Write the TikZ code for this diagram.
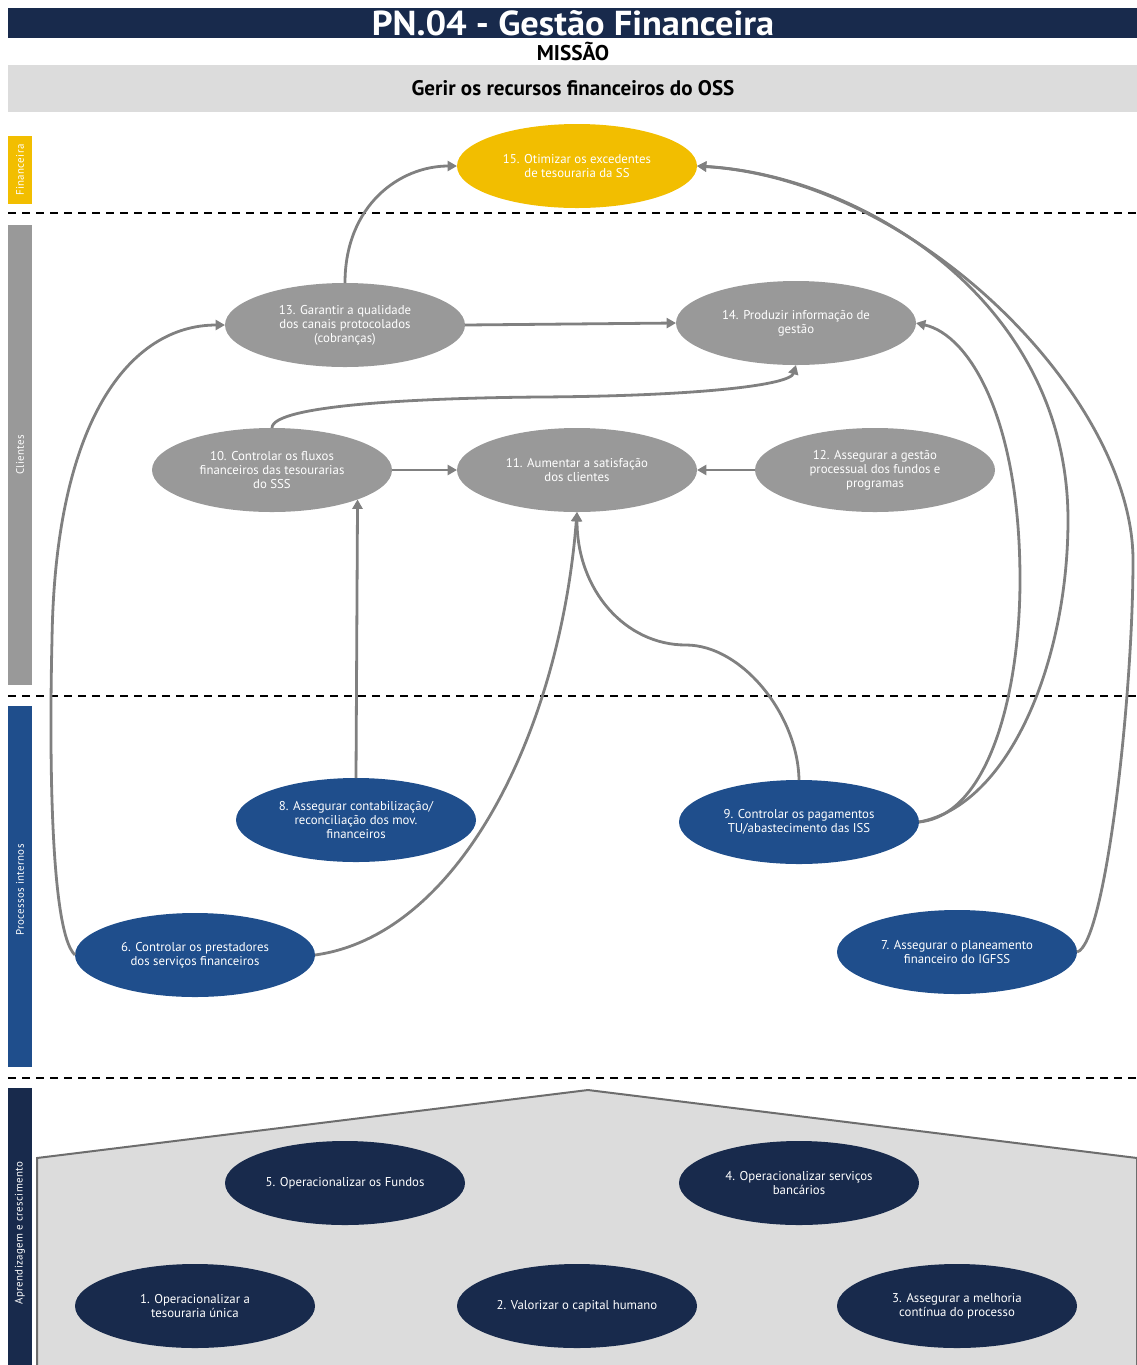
\documentclass[tikz,border=0pt]{standalone}
\usepackage{fontspec}
\setmainfont{PT Sans}
\newfontfamily\titlefont{PT Sans}[FakeStretch=1.05]
\newfontfamily\spacedfont{PT Sans}[LetterSpace=3]
\usetikzlibrary{shapes.geometric,arrows.meta}
\definecolor{navy}{RGB}{24,42,76}
\definecolor{yel}{RGB}{242,190,0}
\definecolor{gry}{RGB}{153,153,153}
\definecolor{blu}{RGB}{31,78,140}
\definecolor{lgr}{RGB}{220,220,220}
\definecolor{con}{RGB}{128,128,128}
\tikzset{
  obj/.style={ellipse, minimum width=180pt, minimum height=63pt, inner sep=0pt, outer sep=0pt,
    text=white, align=center, font=\fontsize{9.6}{10.5}\selectfont},
  objfin/.style={obj, fill=yel},
  objcli/.style={obj, fill=gry},
  objpro/.style={obj, fill=blu},
  objapr/.style={obj, fill=navy},
  conn/.style={draw=con, line width=2.1pt, -{Triangle[length=7pt,width=7.5pt]}},
  sep/.style={draw=black, line width=1.4pt, dash pattern=on 6pt off 4.5pt},
  sidelabel/.style={text=white, rotate=90, font=\spacedfont\fontsize{8.2}{9}\selectfont},
}
\begin{document}
\begin{tikzpicture}[x=0.75pt,y=-0.75pt]
\useasboundingbox (0,0) rectangle (1137,1365);
% header
\fill[navy] (8,8) rectangle (1137,38);
\node[text=white, font=\titlefont\bfseries\fontsize{26}{26}\selectfont] (title) at (573,23) {PN.04 - Gestão Financeira};
\node[font=\bfseries\fontsize{16}{16}\selectfont] (missao) at (573,51) {MISSÃO};
\fill[lgr] (8,65) rectangle (1137,112);
\node[font=\bfseries\fontsize{15.8}{16}\selectfont] (mission) at (573,88) {Gerir os recursos financeiros do OSS};
% side bars
\fill[yel] (8,136) rectangle (32,204);
\node[sidelabel] (lfin) at (20,170) {Financeira};
\fill[gry] (8,225) rectangle (32,685);
\node[sidelabel] (lcli) at (20,455) {Clientes};
\fill[blu] (8,706) rectangle (32,1067);
\node[sidelabel] (lpro) at (20,890) {Processos internos};
\fill[navy] (8,1088) rectangle (32,1365);
\node[sidelabel] (lapr) at (20,1233) {Aprendizagem e crescimento};
% separators
\draw[sep] (8,213) -- (1137,213);
\draw[sep] (8,696) -- (1137,696);
\draw[sep] (8,1078) -- (1137,1078);
% house
\draw[fill=lgr, draw=con!85!black, line width=1.5pt] (37,1366) -- (37,1158) -- (588,1090) -- (1137,1158) -- (1137,1366);
% objectives
\node[objfin] (n15) at (577,166) {15. Otimizar os excedentes\\de tesouraria da SS};
\node[objcli] (n13) at (345,325) {13. Garantir a qualidade\\dos canais protocolados\\(cobranças)};
\node[objcli] (n14) at (796,323) {14. Produzir informação de\\gestão};
\node[objcli] (n10) at (272,470) {10. Controlar os fluxos\\financeiros das tesourarias\\do SSS};
\node[objcli] (n11) at (577,470) {11. Aumentar a satisfação\\dos clientes};
\node[objcli] (n12) at (875,470) {12. Assegurar a gestão\\processual dos fundos e\\programas};
\node[objpro] (n8) at (356,820) {8. Assegurar contabilização/\\reconciliação dos mov.\\financeiros};
\node[objpro] (n9) at (799,822) {9. Controlar os pagamentos\\TU/abastecimento das ISS};
\node[objpro] (n6) at (195,955) {6. Controlar os prestadores\\dos serviços financeiros};
\node[objpro] (n7) at (957,952) {7. Assegurar o planeamento\\financeiro do IGFSS};
\node[objapr] (n5) at (345,1183) {5. Operacionalizar os Fundos};
\node[objapr] (n4) at (799,1183) {4. Operacionalizar serviços\\bancários};
\node[objapr] (n1) at (195,1306) {1. Operacionalizar a\\tesouraria única};
\node[objapr] (n2) at (577,1306) {2. Valorizar o capital humano};
\node[objapr] (n3) at (957,1306) {3. Assegurar a melhoria\\contínua do processo};
% connectors
\draw[conn] (n13.north) .. controls (345,205) and (400,166) .. (n15.west);
\draw[conn] (n13.east) -- (n14.west);
\draw[conn] (n6.west) .. controls (48,930) and (50,720) .. (52,640) .. controls (55,420) and (130,325) .. (n13.west);
\draw[conn] (n10.north) .. controls (272,405) and (420,398) .. (540,397) .. controls (700,396) and (790,385) .. (n14.south);
\draw[conn] (n10.east) -- (n11.west);
\draw[conn] (n12.west) -- (n11.east);
\draw[conn] (n8.north) -- (n10.-19.6);
\draw[conn] (n6.east) .. controls (460,935) and (560,730) .. (n11.south);
\draw[conn] (n9.north) .. controls (798,715) and (742,645) .. (686,645) .. controls (625,645) and (577,590) .. (n11.south);
\draw[conn] (n9.east) .. controls (990,815) and (1020,690) .. (1020,580) .. controls (1020,420) and (970,335) .. (n14.east);
\draw[conn] (n9.east) .. controls (1010,805) and (1068,660) .. (1068,520) .. controls (1068,300) and (860,175) .. (n15.east);
\draw[conn] (n7.east) .. controls (1105,945) and (1133,700) .. (1133,560) .. controls (1133,400) and (920,180) .. (n15.east);
\end{tikzpicture}
\end{document}
